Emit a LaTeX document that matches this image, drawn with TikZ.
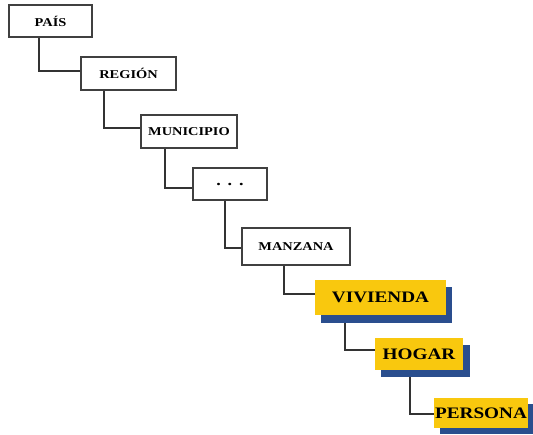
\documentclass[tikz,border=0pt]{standalone}
\usepackage{fontspec}
\setmainfont{Liberation Serif}
\newfontfamily\widefont[FakeStretch=1.2]{Liberation Serif}
\begin{document}
\begin{tikzpicture}[x=1pt,y=-1pt,
  conn/.style={draw=black!80, line width=2.8pt},
  wbox/.style={draw=black!75, line width=1.6pt, fill=white, font=\widefont\bfseries\fontsize{12}{14}\selectfont, inner sep=0pt},
  ybox/.style={fill=yellowc, draw=none, font=\widefont\bfseries\fontsize{16}{18}\selectfont, inner sep=0pt},
  shad/.style={fill=bluec, draw=none}
]
\definecolor{yellowc}{HTML}{F9C80E}
\definecolor{bluec}{HTML}{2A4E8E}
\useasboundingbox (0,0) rectangle (533,434);
% coordinates for connector corners
\coordinate (c1) at (39,71);
\coordinate (c2) at (104,128);
\coordinate (c3) at (165,188);
\coordinate (c4) at (225,248);
\coordinate (c5) at (284,294);
\coordinate (c6) at (345,350);
\coordinate (c7) at (410,414);
% connectors
\draw[conn] (39,37) -- (c1) -- (81,71);
\draw[conn] (104,90) -- (c2) -- (141,128);
\draw[conn] (165,148) -- (c3) -- (193,188);
\draw[conn] (225,200) -- (c4) -- (242,248);
\draw[conn] (284,265) -- (c5) -- (315,294);
\draw[conn] (345,323) -- (c6) -- (375,350);
\draw[conn] (410,377) -- (c7) -- (434,414);
% white boxes
\node[wbox, minimum width=83, minimum height=32] (pais) at (50.5,21) {PAÍS};
\node[wbox, minimum width=95, minimum height=33] (region) at (128.5,73.5) {REGIÓN};
\node[wbox, minimum width=96, minimum height=33] (mun) at (189,131.5) {MUNICIPIO};
\node[wbox, minimum width=74, minimum height=32, font=\widefont\bfseries\fontsize{15}{16}\selectfont] (dots) at (230,184) {.\hspace{7pt}.\hspace{7pt}.};
\node[wbox, minimum width=108, minimum height=37] (manz) at (296,246.5) {MANZANA};
% yellow boxes with shadows
\fill[shad] (321,287) rectangle (452,323);
\node[ybox, minimum width=131, minimum height=35] (viv) at (380.5,297.5) {VIVIENDA};
\fill[shad] (381,345) rectangle (470,377);
\node[ybox, minimum width=88, minimum height=32] (hog) at (419,354) {HOGAR};
\fill[shad] (440,404) rectangle (533,434);
\node[ybox, minimum width=94, minimum height=30] (per) at (481,413) {PERSONA};
\end{tikzpicture}
\end{document}
